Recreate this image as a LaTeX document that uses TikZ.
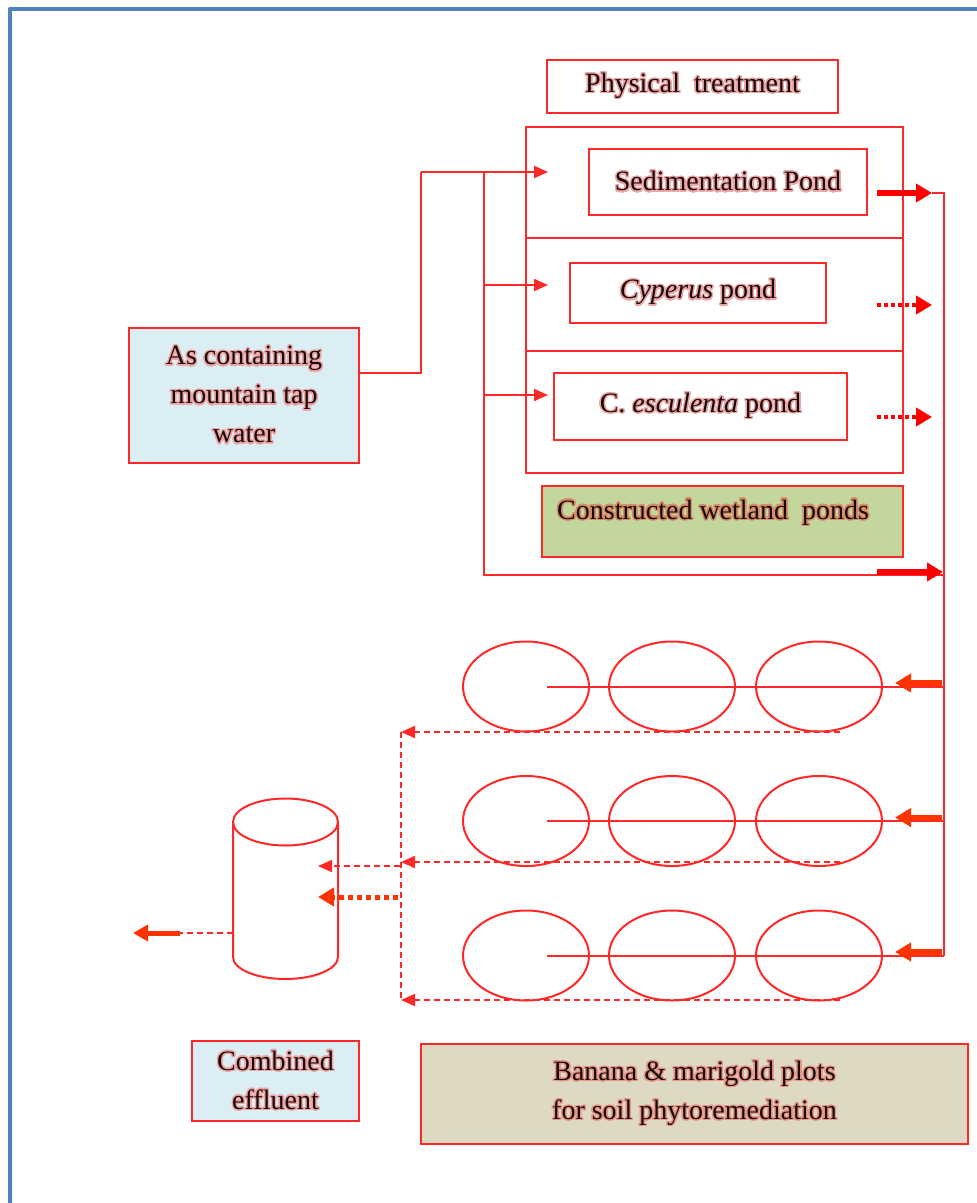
\documentclass[tikz,border=0pt]{standalone}
\usepackage{fontspec}
\setmainfont{Liberation Serif}
\usepackage{contour}
\usetikzlibrary{arrows.meta,shapes.geometric}
\contourlength{1.4pt}
\contournumber{24}

\definecolor{lnred}{RGB}{255,40,40}
\definecolor{pure}{RGB}{255,0,0}
\definecolor{orng}{RGB}{255,51,0}
\definecolor{framecol}{RGB}{79,129,189}
\definecolor{lightblue}{RGB}{219,238,243}
\definecolor{wetgreen}{RGB}{195,214,155}
\definecolor{tanfill}{RGB}{221,217,195}
\definecolor{glowpink}{RGB}{238,165,165}
\definecolor{glowbrown}{RGB}{214,140,105}
\definecolor{glowsalmon}{RGB}{232,150,135}
\definecolor{ink}{RGB}{25,10,10}

\newcommand\lbfont{\fontsize{28}{39}\selectfont\color{ink}}
\newcommand\gl[1]{\contour{glowpink}{#1}}

\begin{document}
\begin{tikzpicture}[x=1pt,y=-1pt,
  box/.style={draw=lnred, line width=2pt, inner sep=0pt, align=center, font=\lbfont},
  wire/.style={draw=lnred, line width=2pt},
  thinarr/.style={wire, -{Triangle[length=14pt,width=12pt]}},
  dashline/.style={wire, dash pattern=on 6pt off 4pt},
  fatred/.style={draw=pure, line width=6pt, -{Triangle[length=16pt,width=18pt]}},
  fatorng/.style={draw=orng, line width=6pt, -{Triangle[length=16pt,width=18pt]}},
  dotred/.style={draw=pure, line width=4pt, dash pattern=on 4pt off 3pt, -{Triangle[length=16pt,width=18pt]}},
  dotorng/.style={draw=orng, line width=5pt, dash pattern=on 5pt off 4pt, -{Triangle[length=16pt,width=18pt]}},
  plot/.style={ellipse, draw=lnred, line width=2pt, minimum width=126pt, minimum height=90pt, inner sep=0pt}
]
\useasboundingbox (0,0) rectangle (977,1203);
\fill[white] (0,0) rectangle (977,1203);

% outer frame
\draw[framecol, line width=4pt, line join=round] (10,1203) -- (10,9) -- (977,9);

% treatment ponds
\node[box, minimum width=291pt, minimum height=53pt] (phys) at (692.5,86.5) {\raisebox{-3pt}{\gl{Physical\ \ treatment}}};
\node[box, minimum width=377pt, minimum height=346pt] (wet) at (714.5,300) {};
\coordinate (d1w) at (526,238); \coordinate (d1e) at (903,238);
\coordinate (d2w) at (526,351); \coordinate (d2e) at (903,351);
\draw[wire] (d1w) -- (d1e);
\draw[wire] (d2w) -- (d2e);
\node[box, minimum width=278pt, minimum height=66pt] (sed) at (728,182) {\gl{Sedimentation Pond}};
\node[box, minimum width=256pt, minimum height=60pt] (cyp) at (698,293) {\gl{\textit{Cyperus} pond}};
\node[box, minimum width=293pt, minimum height=67pt] (col) at (700.5,406.5) {\gl{C. \textit{esculenta} pond}};
\node[box, fill=wetgreen, minimum width=361pt, minimum height=71pt] (cwl) at (722.5,521.5) {};
\node[anchor=west, inner sep=0pt, font=\lbfont] (cwltext) at (557,513) {\contour{glowbrown}{Constructed wetland\ \ ponds}};

% source
\node[box, fill=lightblue, minimum width=230pt, minimum height=135pt] (src) at (244,395.5)
  {\gl{As containing}\\\gl{mountain tap}\\\gl{water}};

% feed lines
\coordinate (srcout) at (359,373);
\coordinate (bend) at (421,172);
\coordinate (trunktop) at (484,172);
\coordinate (trunk2) at (484,285);
\coordinate (trunk3) at (484,395);
\coordinate (trunkbot) at (484,575);
\coordinate (in1) at (548,172);
\coordinate (in2) at (548,285);
\coordinate (in3) at (548,395);
\coordinate (bus) at (944,575);
\draw[wire] (srcout) -| (bend);
\draw[thinarr] (bend) -- (in1);
\draw[wire] (trunktop) -- (trunkbot) -- (bus);
\draw[thinarr] (trunk2) -- (in2);
\draw[thinarr] (trunk3) -- (in3);

% outlets of the ponds
\coordinate (o1a) at (877,193); \coordinate (o1b) at (932,193);
\coordinate (o2a) at (877,305); \coordinate (o2b) at (932,305);
\coordinate (o3a) at (877,417); \coordinate (o3b) at (932,417);
\coordinate (rtop) at (944,193);
\coordinate (r1) at (944,686.5);
\coordinate (r2) at (944,821);
\coordinate (r3) at (944,955.5);
\draw[wire] (o1b) -- (rtop) -- (r3);
\draw[fatred] (o1a) -- (o1b);
\draw[dotred] (o2a) -- (o2b);
\draw[dotred] (o3a) -- (o3b);
\coordinate (fa) at (877,572); \coordinate (fb) at (943,572);
\draw[fatred] (fa) -- (fb);

% soil plots
\foreach \r/\y in {1/686.5,2/821,3/955.5}{
  \node[plot] (p\r a) at (526,\y) {};
  \node[plot] (p\r b) at (672,\y) {};
  \node[plot] (p\r c) at (819,\y) {};
  \coordinate (l\r) at (547,\y);
  \draw[wire] (r\r) -- (l\r);
}
\foreach \r/\y in {1/683,2/817.5,3/952}{
  \coordinate (fs\r) at (942,\y); \coordinate (fe\r) at (895,\y);
  \draw[fatorng] (fs\r) -- (fe\r);
}

% drainage of the plots
\coordinate (dr1) at (840,732);  \coordinate (dl1) at (401,732);
\coordinate (dr2) at (840,862);  \coordinate (dl2) at (401,862);
\coordinate (dr3) at (840,1000); \coordinate (dl3) at (401,1000);
\draw[dashline] (dl1) -- (dl3);
\draw[dashline, -{Triangle[length=14pt,width=12pt]}] (dr1) -- (dl1);
\draw[dashline, -{Triangle[length=14pt,width=12pt]}] (dr2) -- (dl2);
\draw[dashline, -{Triangle[length=14pt,width=12pt]}] (dr3) -- (dl3);

% collecting tank
\node[minimum width=105pt, minimum height=181pt, inner sep=0pt] (tank) at (285.5,888.5) {};
\draw[wire] (233,822) -- (233,957) arc[start angle=180, end angle=0, x radius=52.5, y radius=22] -- (338,822);
\draw[wire] (285.5,822) ellipse [x radius=52.5, y radius=23.5];
\coordinate (ti1) at (400,866); \coordinate (te1) at (318,866);
\coordinate (ti2) at (398,897); \coordinate (te2) at (318,897);
\draw[dashline, -{Triangle[length=14pt,width=12pt]}] (ti1) -- (te1);
\draw[dotorng] (ti2) -- (te2);
\coordinate (out0) at (233,933); \coordinate (out1) at (180,933); \coordinate (out2) at (133,933);
\draw[dashline] (out0) -- (out1);
\draw[draw=orng, line width=5pt, -{Triangle[length=15pt,width=16pt]}] (out1) -- (out2);

% captions
\node[box, fill=lightblue, minimum width=167pt, minimum height=80pt] (eff) at (275.5,1081)
  {\fontsize{28}{37}\selectfont\gl{Combined}\\\gl{effluent}};
\node[box, fill=tanfill, minimum width=547pt, minimum height=100pt] (plots) at (694.5,1094)
  {\fontsize{28}{36}\selectfont\contour{glowsalmon}{Banana \& marigold plots}\\\contour{glowsalmon}{for soil phytoremediation}};
\end{tikzpicture}
\end{document}
